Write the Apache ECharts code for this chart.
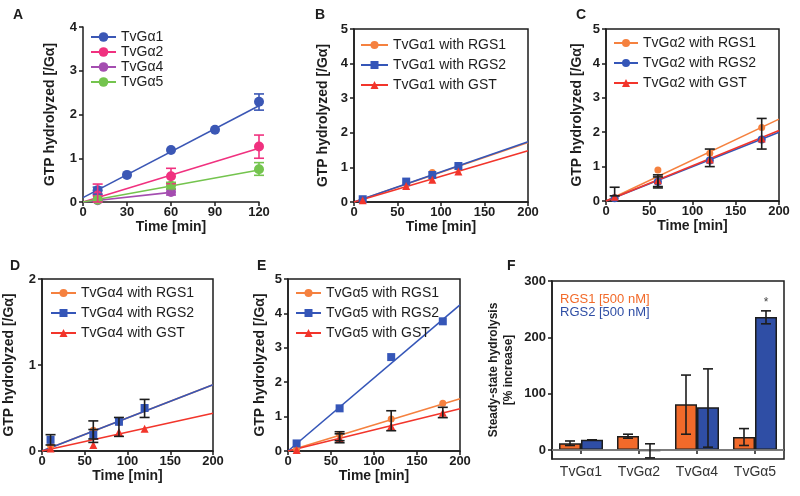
<!DOCTYPE html>
<html>
<head>
<meta charset="utf-8">
<script src="https://cdn.jsdelivr.net/npm/echarts@6/dist/echarts.min.js"></script>
<style>
  html, body { margin: 0; background: #fff; }
  #chart { width: 800px; height: 496px; }
</style>
</head>
<body>
<div id="chart"></div>
<script>
// ---- data ----
// A: GTP hydrolyzed [/Gα] vs time [min]
const a1Pts = [[10, 0.27], [30, 0.62], [60, 1.19], [90, 1.65], [120, 2.29]];
const a1Fit = [[0, 0.1], [120, 2.2]];
const a1Err = [[10, 0.18, 0.34], [120, 2.1, 2.47]];
const a2Pts = [[10, 0.15], [60, 0.59], [120, 1.27]];
const a2Fit = [[0, 0], [120, 1.23]];
const a2Err = [[10, 0, 0.41], [60, 0.42, 0.77], [120, 1.0, 1.53]];
const a4Pts = [[10, 0.04], [60, 0.23]];
const a4Fit = [[0, 0], [60, 0.22]];
const a4Err = [[60, 0.16, 0.29]];
const a5Pts = [[10, 0.05], [60, 0.37], [120, 0.75]];
const a5Fit = [[0, 0], [120, 0.73]];
const a5Err = [[60, 0.3, 0.45], [120, 0.61, 0.9]];

// B: TvGα1
const b1Pts = [[10, 0.06], [60, 0.55], [90, 0.85], [120, 1.0]];
const b1Fit = [[0, 0], [200, 1.72]];
const b2Pts = [[10, 0.08], [60, 0.59], [90, 0.78], [120, 1.04]];
const b2Fit = [[0, 0], [200, 1.74]];
const bgPts = [[10, 0.05], [60, 0.46], [90, 0.64], [120, 0.88]];
const bgFit = [[0, 0], [200, 1.48]];

// C: TvGα2
const c1Pts = [[10, 0.1], [60, 0.9], [120, 1.39], [180, 2.14]];
const c1Fit = [[0, 0], [200, 2.38]];
const c2Pts = [[10, 0.08], [60, 0.56], [120, 1.18], [180, 1.79]];
const c2Fit = [[0, 0], [200, 2.0]];
const cgPts = [[10, 0.12], [60, 0.6], [120, 1.21], [180, 1.82]];
const cgFit = [[0, 0], [200, 2.05]];
const cErr = [[10, 0.15, 0.4], [60, 0.42, 0.76], [60, 0.38, 0.7], [120, 1.0, 1.51], [180, 1.51, 2.4]];

// D: TvGα4
const d1Pts = [[10, 0.06], [60, 0.24], [90, 0.33], [120, 0.49]];
const d1Fit = [[0, 0], [200, 0.77]];
const d2Pts = [[10, 0.13], [60, 0.19], [90, 0.34], [120, 0.5]];
const d2Fit = [[0, 0], [200, 0.77]];
const dgPts = [[10, 0.03], [60, 0.07], [90, 0.22], [120, 0.26]];
const dgFit = [[0, 0], [200, 0.44]];
const dErr = [[10, 0.07, 0.19], [60, 0.14, 0.35], [60, 0.1, 0.25], [90, 0.17, 0.39], [120, 0.39, 0.6]];

// E: TvGα5
const e1Pts = [[10, 0.05], [60, 0.47], [120, 0.93], [180, 1.39]];
const e1Fit = [[0, 0], [200, 1.52]];
const e2Pts = [[10, 0.22], [60, 1.24], [120, 2.73], [180, 3.77]];
const e2Fit = [[0, 0], [200, 4.25]];
const egPts = [[10, 0.03], [60, 0.37], [120, 0.73], [180, 1.11]];
const egFit = [[0, 0], [200, 1.23]];
const eErr = [[60, 0.24, 0.56], [60, 0.3, 0.5], [120, 0.59, 1.17], [180, 0.97, 1.27]];

// F: steady-state hydrolysis [% increase]
const fCats = ['TvGα1', 'TvGα2', 'TvGα4', 'TvGα5'];
const fTicks = [0, 100, 200, 300];
const rgs1Pct = [12, 25, 81, 23];
const rgs1Lo = [8, 21, 28, 8];
const rgs1Hi = [16, 28, 133, 38];
const rgs2Pct = [18, -2, 76, 236];
const rgs2Lo = [18, -14, 5, 224];
const rgs2Hi = [18, 11, 144, 247];
const rgs2Mark = ['', '', '', '*'];

// ---- style ----
const font = 'Liberation Sans, Arial, sans-serif';
const ink = '#1d1d1d';
const blue = '#3556b8', orange = '#f5813f', red = '#f2352b';
const barOrange = '#f26a2a', barBlue = '#2f4ea5';
const aColors = ['#3b57b5', '#f0317f', '#a44db0', '#74c44e'];

const boxed = {show: true, borderColor: ink, borderWidth: 1.5, backgroundColor: 'transparent'};
const grids = [
  {left: 83, top: 27, width: 176, height: 175, show: false},
  Object.assign({left: 354, top: 29, width: 174, height: 173}, boxed),
  Object.assign({left: 606, top: 29, width: 173, height: 172}, boxed),
  Object.assign({left: 42, top: 279, width: 171, height: 172}, boxed),
  Object.assign({left: 288, top: 279, width: 172, height: 172}, boxed),
  Object.assign({left: 552, top: 281, width: 232, height: 178}, boxed)
];
grids.forEach(g => g.outerBoundsMode = 'none');

const lineAx = {show: true, lineStyle: {color: ink, width: 1.5}};
const tickAx = {show: true, length: 4, lineStyle: {color: ink, width: 1.5}};
const boldLbl = {fontFamily: font, fontWeight: 'bold', fontSize: 13, color: ink};

function timeAxis(gi, max, interval) {
  return {
    type: 'value', gridIndex: gi, min: 0, max: max, interval: interval,
    name: 'Time [min]', nameLocation: 'middle', nameGap: 17,
    nameTextStyle: {fontFamily: font, fontWeight: 'bold', fontSize: 14, color: ink},
    axisLine: lineAx, axisTick: tickAx,
    axisLabel: Object.assign({margin: 4}, boldLbl),
    splitLine: {show: false}
  };
}

function gtpAxis(gi, max, gap) {
  return {
    type: 'value', gridIndex: gi, min: 0, max: max, interval: 1,
    name: 'GTP hydrolyzed [/Gα]', nameLocation: 'middle', nameRotate: 90, nameGap: gap,
    nameTextStyle: {fontFamily: font, fontWeight: 'bold', fontSize: 14, color: ink},
    axisLine: lineAx, axisTick: tickAx,
    axisLabel: Object.assign({margin: 6}, boldLbl),
    splitLine: {show: false}
  };
}

function fitLine(gi, name, data, color, symbol) {
  return {
    type: 'line', name: name, xAxisIndex: gi, yAxisIndex: gi, data: data, color: color,
    symbol: symbol, showSymbol: false, silent: true, z: 2,
    lineStyle: {width: 1.6, color: color}
  };
}

function points(gi, name, data, color, symbol, size) {
  return {
    type: 'scatter', name: name, xAxisIndex: gi, yAxisIndex: gi, data: data,
    symbol: symbol, symbolSize: size, silent: true, z: 3,
    itemStyle: {color: color, opacity: 1}
  };
}

function errorBars(gi, data, color, shift, cap) {
  return {
    type: 'custom', xAxisIndex: gi, yAxisIndex: gi, z: 5, silent: true,
    encode: {x: 0, y: [1, 2]},
    data: data,
    renderItem: function(params, api) {
      const top = api.coord([api.value(0), api.value(2)]);
      const bot = api.coord([api.value(0), api.value(1)]);
      const x = top[0] + shift;
      const style = {stroke: color, lineWidth: 1.6};
      return {type: 'group', children: [
        {type: 'line', shape: {x1: x, y1: top[1], x2: x, y2: bot[1]}, style: style},
        {type: 'line', shape: {x1: x - cap, y1: top[1], x2: x + cap, y2: top[1]}, style: style},
        {type: 'line', shape: {x1: x - cap, y1: bot[1], x2: x + cap, y2: bot[1]}, style: style}
      ]};
    }
  };
}

function legendFor(names, left, top, itemWidth, itemHeight, gap) {
  return {
    data: names, orient: 'vertical', left: left, top: top, padding: 0,
    itemWidth: itemWidth, itemHeight: itemHeight, itemGap: gap,
    selectedMode: false,
    textStyle: {fontFamily: font, fontSize: 14, color: ink, lineHeight: 14}
  };
}

// ---- series ----
const series = [];

// A
const aNames = ['TvGα1', 'TvGα2', 'TvGα4', 'TvGα5'];
const aPts = [a1Pts, a2Pts, a4Pts, a5Pts];
const aFit = [a1Fit, a2Fit, a4Fit, a5Fit];
const aErr = [a1Err, a2Err, a4Err, a5Err];
aNames.forEach((n, i) => series.push(fitLine(0, n, aFit[i], aColors[i], 'circle')));
aNames.forEach((n, i) => {
  series.push(points(0, n, aPts[i], aColors[i], 'circle', 10));
  series.push(errorBars(0, aErr[i], aColors[i], 0, 5));
});

// B..E share the same three conditions
const panels = [
  {gi: 1, g: 'TvGα1', fit: [b1Fit, b2Fit, bgFit], pts: [b1Pts, b2Pts, bgPts], err: [], s2: 'rect'},
  {gi: 2, g: 'TvGα2', fit: [c1Fit, c2Fit, cgFit], pts: [c1Pts, c2Pts, cgPts], err: cErr, s2: 'circle'},
  {gi: 3, g: 'TvGα4', fit: [d1Fit, d2Fit, dgFit], pts: [d1Pts, d2Pts, dgPts], err: dErr, s2: 'rect'},
  {gi: 4, g: 'TvGα5', fit: [e1Fit, e2Fit, egFit], pts: [e1Pts, e2Pts, egPts], err: eErr, s2: 'rect'}
];
const condNames = ['with RGS1', 'with RGS2', 'with GST'];
const condColors = [orange, blue, red];
panels.forEach(p => {
  const syms = ['circle', p.s2, 'triangle'];
  const sizes = [7, 8, 8];
  p.names = condNames.map(c => p.g + ' ' + c);
  p.names.forEach((n, i) => series.push(fitLine(p.gi, n, p.fit[i], condColors[i], syms[i])));
  p.names.forEach((n, i) => series.push(points(p.gi, n, p.pts[i], condColors[i], syms[i], sizes[i])));
  if (p.err.length) series.push(errorBars(p.gi, p.err, ink, 0, 5));
});

// F
series.push({
  type: 'bar', name: 'RGS1 [500 nM]', xAxisIndex: 5, yAxisIndex: 5, data: rgs1Pct,
  barWidth: 22, barGap: '0%', silent: true,
  itemStyle: {color: barOrange, borderColor: ink, borderWidth: 1.5},
  markLine: {
    silent: true, symbol: 'none', label: {show: false},
    lineStyle: {color: '#8a8a8a', width: 1.5, type: 'solid'},
    data: [{yAxis: 0}]
  }
});
series.push({
  type: 'bar', name: 'RGS2 [500 nM]', xAxisIndex: 5, yAxisIndex: 5, silent: true,
  data: rgs2Pct.map((v, i) => ({
    value: v,
    label: {show: rgs2Mark[i] !== '', position: 'top', distance: 8, formatter: rgs2Mark[i],
      fontFamily: font, fontSize: 12, color: '#444'}
  })),
  barWidth: 22, barGap: '0%',
  itemStyle: {color: barBlue, borderColor: ink, borderWidth: 1.5}
});
series.push(errorBars(5, fCats.map((c, i) => [i, rgs1Lo[i], rgs1Hi[i]]), ink, -11, 5));
series.push(errorBars(5, fCats.map((c, i) => [i, rgs2Lo[i], rgs2Hi[i]]), ink, 11, 5));

// ---- axes ----
const xAxes = [
  timeAxis(0, 120, 30), timeAxis(1, 200, 50), timeAxis(2, 200, 50),
  timeAxis(3, 200, 50), timeAxis(4, 200, 50),
  {
    type: 'category', gridIndex: 5, data: fCats,
    axisLine: lineAx,
    axisTick: {show: true, alignWithLabel: true, length: 4, lineStyle: {color: ink, width: 1.5}},
    axisLabel: {fontFamily: font, fontSize: 14, color: '#333', margin: 6}
  }
];
const yAxes = [
  gtpAxis(0, 4, 26), gtpAxis(1, 5, 24), gtpAxis(2, 5, 22),
  gtpAxis(3, 2, 26), gtpAxis(4, 5, 21),
  {
    type: 'value', gridIndex: 5, min: -16, max: 300,
    name: 'Steady-state hydrolysis\n[% increase]', nameLocation: 'middle', nameRotate: 90, nameGap: 36,
    nameTextStyle: {fontFamily: font, fontWeight: 'bold', fontSize: 12, lineHeight: 15, color: ink},
    axisLine: lineAx,
    axisTick: {show: true, length: 4, customValues: fTicks, lineStyle: {color: ink, width: 1.5}},
    axisLabel: Object.assign({margin: 6, customValues: fTicks}, boldLbl),
    splitLine: {show: false}
  }
];

// ---- legends and panel letters ----
const legends = [
  legendFor(aNames, 90, 30, 25, 12, 1),
  legendFor(panels[0].names, 360, 38, 27, 10, 6),
  legendFor(panels[1].names, 613, 36, 24, 10, 6),
  legendFor(panels[2].names, 50, 286, 25, 10, 6),
  legendFor(panels[3].names, 295, 286, 25, 10, 6),
  {
    data: [
      {name: 'RGS1 [500 nM]', icon: 'none', textStyle: {color: barOrange}},
      {name: 'RGS2 [500 nM]', icon: 'none', textStyle: {color: barBlue}}
    ],
    orient: 'vertical', left: 555, top: 293, padding: 0, itemWidth: 0, itemHeight: 10, itemGap: 0,
    selectedMode: false,
    textStyle: {fontFamily: font, fontSize: 13, lineHeight: 13}
  }
];

const letters = [['A', 13, 8], ['B', 315, 8], ['C', 576, 8], ['D', 10, 259], ['E', 257, 259], ['F', 507, 259]];
const titles = letters.map(l => ({
  text: l[0], left: l[1], top: l[2], padding: 0,
  textStyle: {fontFamily: font, fontWeight: 'bold', fontSize: 14, color: ink}
}));

const chart = echarts.init(document.getElementById('chart'), null, {renderer: 'canvas'});
chart.setOption({
  animation: false,
  backgroundColor: '#fff',
  title: titles,
  legend: legends,
  grid: grids,
  xAxis: xAxes,
  yAxis: yAxes,
  series: series
});
</script>
</body>
</html>
